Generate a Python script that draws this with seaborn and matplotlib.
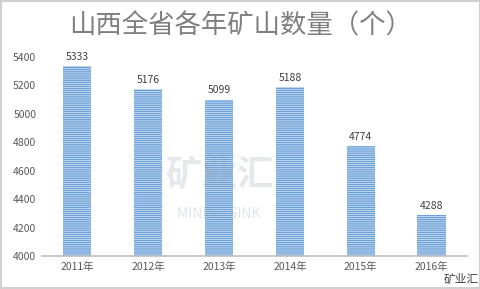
import matplotlib
matplotlib.use("Agg")
import matplotlib.pyplot as plt
import seaborn as sns
import pandas as pd
from matplotlib.patches import Rectangle

years = ["2011年", "2012年", "2013年", "2014年", "2015年", "2016年"]
counts = [5333, 5176, 5099, 5188, 4774, 4288]
yticks = [4000, 4200, 4400, 4600, 4800, 5000, 5200, 5400]
title = "山西全省各年矿山数量（个）"

sns.set_theme(style="white")
plt.rcParams['font.family'] = ['Noto Sans CJK SC', 'DejaVu Sans']
plt.rcParams['hatch.linewidth'] = 1.0

df = pd.DataFrame({"year": years, "count": counts})

fig = plt.figure(figsize=(4.81, 2.89), dpi=100)
ax = fig.add_axes([0.087, 0.114, 0.884, 0.689])
sns.barplot(data=df, x="year", y="count", ax=ax, color="#E3EEF9", width=0.4,
            saturation=1)
for p in ax.patches:
    p.set_hatch("--------")
    p.set_edgecolor("#6A9FD8")
    p.set_linewidth(0)

ax.set_ylim(4000, 5400)
ax.set_yticks(yticks)
ax.set_xlabel("")
ax.set_ylabel("")
for s in ["left", "right", "top"]:
    ax.spines[s].set_visible(False)
ax.spines["bottom"].set_color("#BFBFBF")
ax.spines["bottom"].set_linewidth(1.2)
ax.tick_params(axis="both", length=0, labelsize=7.5, colors="#595959", pad=4)

for i, v in enumerate(counts):
    ax.text(i, v + 30, str(v), ha="center", va="bottom", fontsize=7.5, color="#404040")

fig.text(0.5, 0.91, title, ha="center", va="center", fontsize=19, color="#7F7F7F")

# watermark
fig.text(0.455, 0.39, "矿业汇", ha="center", va="center", fontsize=26, color="#9AA8B4", alpha=0.25, fontweight="bold")
fig.text(0.455, 0.26, "MINING SINK", ha="center", va="center", fontsize=10, color="#9AA8B4", alpha=0.3)
fig.text(0.958, 0.035, "矿业汇", ha="center", va="center", fontsize=8.5, color="#404040")

fig.patches.append(Rectangle((0.002, 0.003), 0.995, 0.994, transform=fig.transFigure,
                             fill=False, edgecolor="#D0D0D0", linewidth=1.5))
fig.savefig("out.png", dpi=100)
